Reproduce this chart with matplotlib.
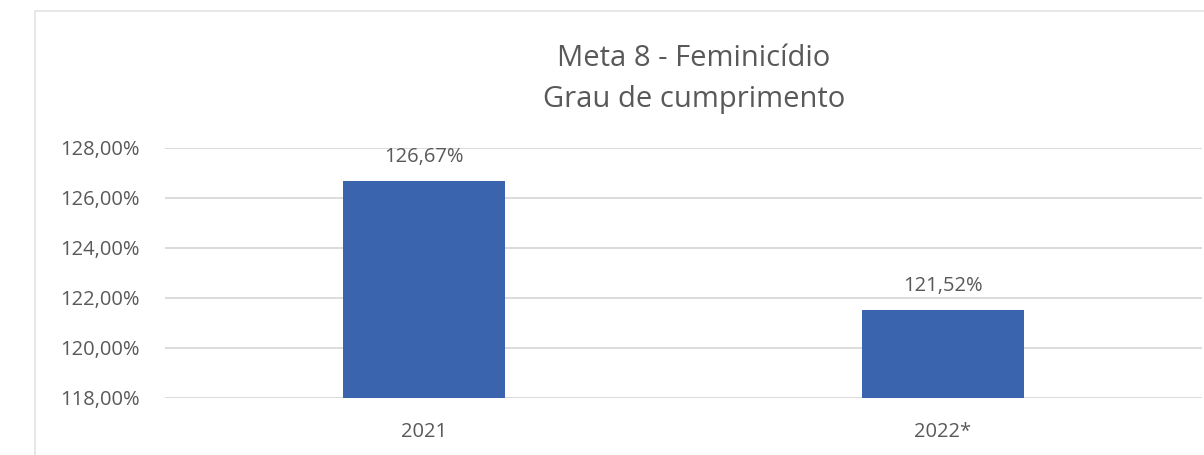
import matplotlib.pyplot as plt
from matplotlib.patches import Rectangle

years = ["2021", "2022*"]
grau = [126.67, 121.52]
yticks = [118, 120, 122, 124, 126, 128]

BAR_COLOR = "#3A64AD"
TEXT_COLOR = "#595959"
GRID_COLOR = "#D9D9D9"

plt.rcParams["font.family"] = ["Open Sans", "DejaVu Sans"]

fig = plt.figure(figsize=(12.04, 4.55), dpi=100)
W, H = 1204, 455

# chart area border (Excel style), cut off at right/bottom
fig.patches.append(Rectangle((35 / W, -0.1), 1.2, 1.1 - 11 / H, transform=fig.transFigure,
                             fill=False, edgecolor="#E3E3E3", linewidth=1.2))

ax = fig.add_axes([165 / W, 1 - 398 / H, (1202 - 165) / W, 250 / H])
x = range(len(years))
bars = ax.bar(x, grau, width=0.313, bottom=0, color=BAR_COLOR, zorder=3)
ax.set_ylim(118, 128)
ax.set_xlim(-0.5, 1.5)
ax.set_yticks(yticks)
ax.set_yticklabels([f"{v:.2f}".replace(".", ",") + "%" for v in yticks])
ax.set_xticks(list(x))
ax.set_xticklabels(years)
ax.tick_params(axis="y", length=0, pad=18.5, labelsize=14.5, labelcolor=TEXT_COLOR)
ax.tick_params(axis="x", length=0, pad=17, labelsize=14.5, labelcolor=TEXT_COLOR)
ax.grid(axis="y", color=GRID_COLOR, linewidth=1.3, zorder=0)
for s in ax.spines.values():
    s.set_visible(False)

for xi, v in zip(x, grau):
    ax.annotate(f"{v:.2f}".replace(".", ",") + "%", (xi, v), xytext=(0, 10),
                textcoords="offset points", ha="center", va="bottom",
                fontsize=14.5, color=TEXT_COLOR)

fig.text(694 / W, 1 - 66 / H, "Meta 8 - Feminicídio", ha="center", va="baseline",
         fontsize=21, color=TEXT_COLOR)
fig.text(694 / W, 1 - 107 / H, "Grau de cumprimento", ha="center", va="baseline",
         fontsize=21, color=TEXT_COLOR)

fig.savefig("out.png", dpi=100, facecolor="white")
